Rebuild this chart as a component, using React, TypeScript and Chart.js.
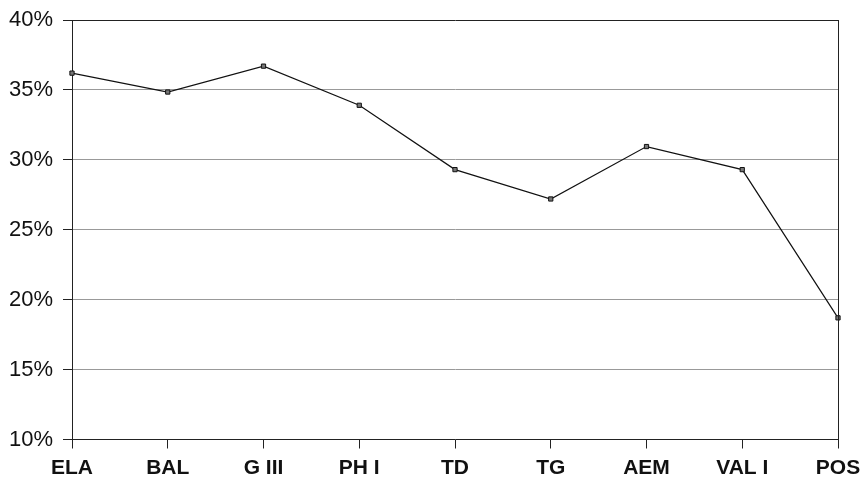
import React, { useEffect, useRef } from "react";
import { Chart, registerables } from "chart.js";

Chart.register(...registerables);

const categories = ["ELA", "BAL", "G III", "PH I", "TD", "TG", "AEM", "VAL I", "POS"];
const values = [36.2, 34.85, 36.7, 33.9, 29.3, 27.2, 30.95, 29.3, 18.7];
const yMin = 10;
const yMax = 40;
const yStep = 5;

const frameLines = {
  id: "frameLines",
  afterDraw(chart: any) {
    const { ctx, chartArea } = chart;
    ctx.save();
    ctx.strokeStyle = "#222";
    ctx.lineWidth = 1;
    ctx.beginPath();
    ctx.moveTo(chartArea.right + 0.5, chartArea.top);
    ctx.lineTo(chartArea.right + 0.5, chartArea.bottom);
    ctx.stroke();
    ctx.restore();
  },
};

export default function App() {
  const ref = useRef<HTMLCanvasElement>(null);
  useEffect(() => {
    if (!ref.current) return;
    const chart = new Chart(ref.current, {
      type: "line",
      data: {
        labels: categories,
        datasets: [
          {
            data: values,
            borderColor: "#111",
            borderWidth: 1.2,
            pointStyle: "rect",
            pointRadius: 3,
            pointBackgroundColor: "#777",
            pointBorderColor: "#111",
            pointBorderWidth: 1,
            tension: 0,
            fill: false,
          },
        ],
      },
      options: {
        animation: false,
        responsive: true,
        maintainAspectRatio: false,
        layout: { padding: { top: 20, right: 26, left: 0, bottom: 0 } },
        plugins: { legend: { display: false }, tooltip: { enabled: false } },
        scales: {
          x: {
            offset: false,
            grid: {
              drawOnChartArea: false,
              tickLength: 9,
              tickColor: "#222",
            },
            border: { color: "#222", width: 1 },
            ticks: {
              color: "#111",
              padding: 7,
              maxRotation: 0,
              font: { family: "Liberation Sans, Arial, sans-serif", size: 21, weight: "bold" },
            },
            afterFit: (s: any) => {
              s.height = 37.5;
              s.paddingRight = 20;
              s.paddingLeft = 20;
            },
          },
          y: {
            min: yMin,
            max: yMax,
            ticks: {
              stepSize: yStep,
              color: "#111",
              padding: 10,
              callback: (v: any) => v + "%",
              font: { family: "Liberation Sans, Arial, sans-serif", size: 22 },
            },
            grid: {
              tickLength: 9,
              tickColor: "#222",
              color: (c: any) => (c.tick && c.tick.value === yMax ? "#222" : "#999"),
              lineWidth: 1,
            },
            border: { color: "#222", width: 1 },
            afterFit: (s: any) => {
              s.width = 72;
              s.paddingTop = 12;
              s.paddingBottom = 12;
            },
          },
        },
      },
      plugins: [frameLines],
    });
    return () => chart.destroy();
  }, []);
  return (
    <div style={{ position: "absolute", left: 0, top: 0, width: 864, height: 477, background: "#fff" }}>
      <canvas ref={ref} />
    </div>
  );
}
